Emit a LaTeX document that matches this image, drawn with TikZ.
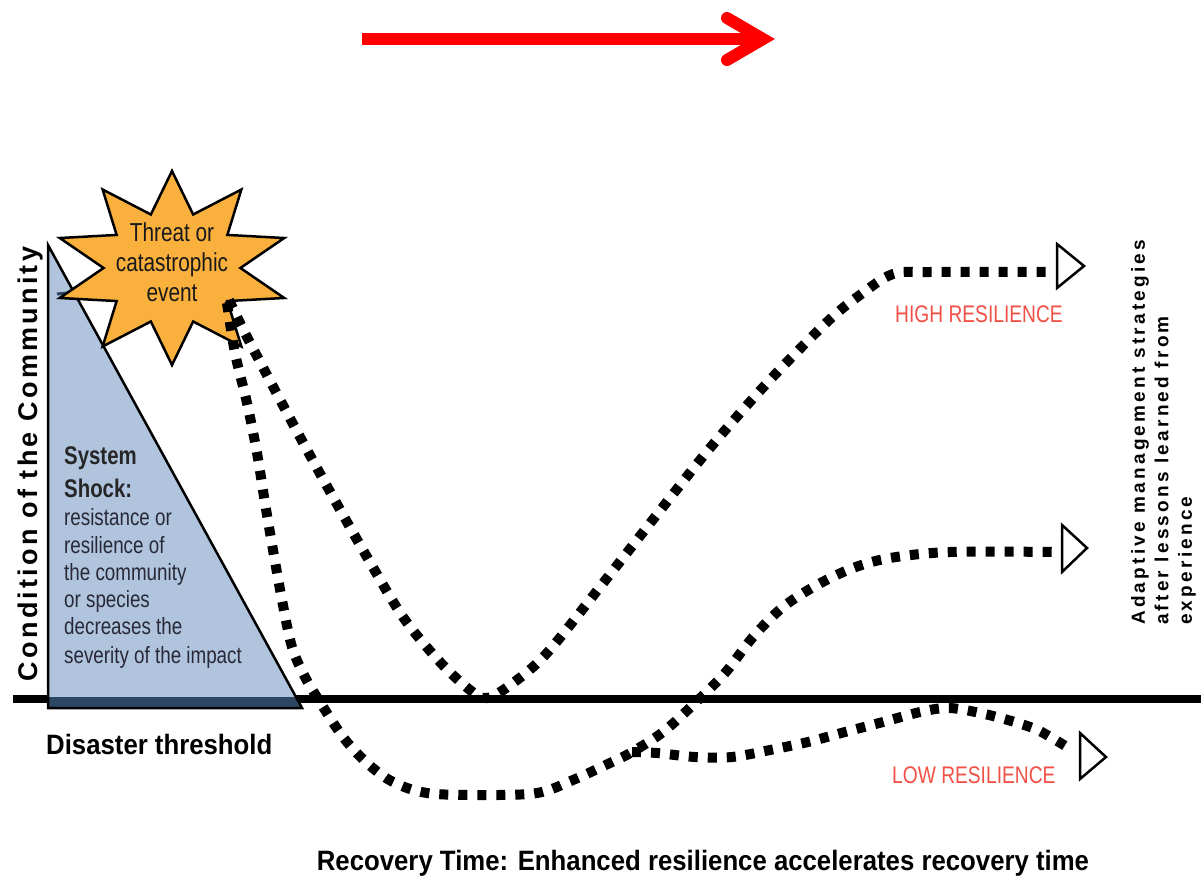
\documentclass[tikz,border=0pt]{standalone}
\usepackage{fontspec}
\setmainfont{Liberation Sans}
\newfontfamily\narrowfont[FakeStretch=0.8]{Liberation Sans}
\newfontfamily\condfont[FakeStretch=0.92]{Liberation Sans}
\newfontfamily\spacedbold[LetterSpace=12]{Liberation Sans}
\newfontfamily\spacedreg[LetterSpace=17]{Liberation Sans}
\definecolor{trifill}{RGB}{176,196,222}
\definecolor{bandcol}{RGB}{44,70,100}
\definecolor{starfill}{RGB}{250,176,60}
\definecolor{reslab}{RGB}{242,80,70}
\definecolor{shocktext}{RGB}{40,40,55}
\definecolor{arrowred}{RGB}{255,0,0}
\begin{document}
\begin{tikzpicture}[x=1pt,y=-1pt,
  dotcurve/.style={line width=10pt, dash pattern=on 9pt off 10pt},
  headtri/.style={draw=black, fill=white, line width=2.5pt, line join=miter},
  redarrow/.style={draw=arrowred, line width=12pt},
  reslabel/.style={text=reslab, font=\narrowfont\fontsize{24}{28}\selectfont, anchor=base west, inner sep=0pt},
  shock/.style={text=shocktext, font=\narrowfont\fontsize{23.5}{27}\selectfont, anchor=base west, inner sep=0pt},
  shockhead/.style={text=black!85, font=\narrowfont\bfseries\fontsize{25.5}{30}\selectfont, anchor=base west, inner sep=0pt},
  boldlabel/.style={font=\condfont\bfseries\fontsize{28}{32}\selectfont, inner sep=0pt},
  ]
\useasboundingbox (0,0) rectangle (1201,880);
\fill[white] (0,0) rectangle (1201,880);

% red arrow
\coordinate (rs) at (362,39);
\coordinate (re) at (763,39);
\coordinate (rh1) at (727,18);
\coordinate (rh2) at (727,60);
\draw[redarrow] (rs) -- (re);
\draw[redarrow, line cap=round, line join=miter] (rh1) -- (re) -- (rh2);

% threshold line
\coordinate (thl) at (13,699);
\coordinate (thr) at (1201,699);
\draw[line width=8pt] (thl) -- (thr);

% triangle (system shock)
\coordinate (ta) at (48,245);
\coordinate (tb) at (48,708);
\coordinate (tc) at (302,708);
\fill[trifill] (ta) -- (tb) -- (tc) -- cycle;
\begin{scope}
  \clip (ta) -- (tb) -- (tc) -- cycle;
  \fill[bandcol] (40,697) rectangle (310,709);
\end{scope}
\draw[line width=2.5pt, line join=miter] (ta) -- (tb) -- (tc) -- cycle;
\draw[bandcol, line width=3pt] (57,294) -- (78,292);

% star
\draw[fill=starfill, line width=2.5pt, line join=miter]
  (172,171) \foreach \a in {0,36,...,324} {
    -- ({172+118*0.58*cos(72-\a)},{268-97*0.58*sin(72-\a)})
    -- ({172+118*cos(54-\a)},{268-97*sin(54-\a)}) } -- cycle;
\node[align=center, text=black!90, font=\narrowfont\fontsize{26}{30}\selectfont, inner sep=0pt]
  (threat) at (172,262) {Threat or\\catastrophic\\event};

% curves
\draw[dotcurve] plot[smooth, tension=0.55] coordinates {
  (229,300) (245,333) (268,377) (300,437) (333,497) (367,557) (403,617)
  (440,662) (470,690) (487,698) (513,683) (547,653) (600,587) (655,517)
  (710,448) (768,382) (827,322) (860,295) (893,274) (930,272) (1052,272)};
\draw[dotcurve] plot[smooth, tension=0.55] coordinates {
  (227,303) (235,353) (247,403) (257,453) (265,503) (273,550) (282,600)
  (292,647) (305,677) (320,702) (343,737) (367,763) (393,782) (427,793)
  (480,795) (537,793) (573,780) (612,762) (632,752) (663,732) (695,703)
  (725,673) (753,637) (783,607) (817,585) (853,568) (890,558) (950,552)
  (1056,552)};
\draw[dotcurve] plot[smooth, tension=0.55] coordinates {
  (632,752) (657,753) (695,757) (732,757) (770,750) (808,742) (845,732)
  (883,722) (920,712) (945,708) (965,710) (997,717) (1033,728) (1052,738)
  (1072,750)};

% arrow heads
\draw[headtri] (1057,244) -- (1084,266) -- (1057,288) -- cycle;
\draw[headtri] (1062,525) -- (1087,548) -- (1062,572) -- cycle;
\draw[headtri] (1080,733) -- (1106,757) -- (1080,779) -- cycle;

% labels
\node[reslabel] (high) at (895,322) {HIGH RESILIENCE};
\node[reslabel] (low) at (892,783) {LOW RESILIENCE};

\node[shockhead] (sys) at (64,464) {System};
\node[shockhead] (shk) at (64,497) {Shock:};
\node[shock] (l1) at (64,525) {resistance or};
\node[shock] (l2) at (64,553) {resilience of};
\node[shock] (l3) at (64,580) {the community};
\node[shock] (l4) at (64,607) {or species};
\node[shock] (l5) at (64,634) {decreases the};
\node[shock] (l6) at (64,663) {severity of the impact};

\node[boldlabel, anchor=base west] (dis) at (46,754) {Disaster threshold};
\node[boldlabel, anchor=base] (rec) at (703,870) {Recovery Time: Enhanced resilience accelerates recovery time};

\node[rotate=90, font=\spacedbold\bfseries\fontsize{27}{30}\selectfont, inner sep=0pt]
  (cond) at (31,464) {Condition of the Community};
\node[rotate=90, anchor=north west, align=left, inner sep=0pt,
  font=\spacedreg\bfseries\fontsize{19}{23.5}\selectfont]
  (adapt) at (1131,625) {Adaptive management strategies\\after lessons learned from\\experience};
\end{tikzpicture}
\end{document}
